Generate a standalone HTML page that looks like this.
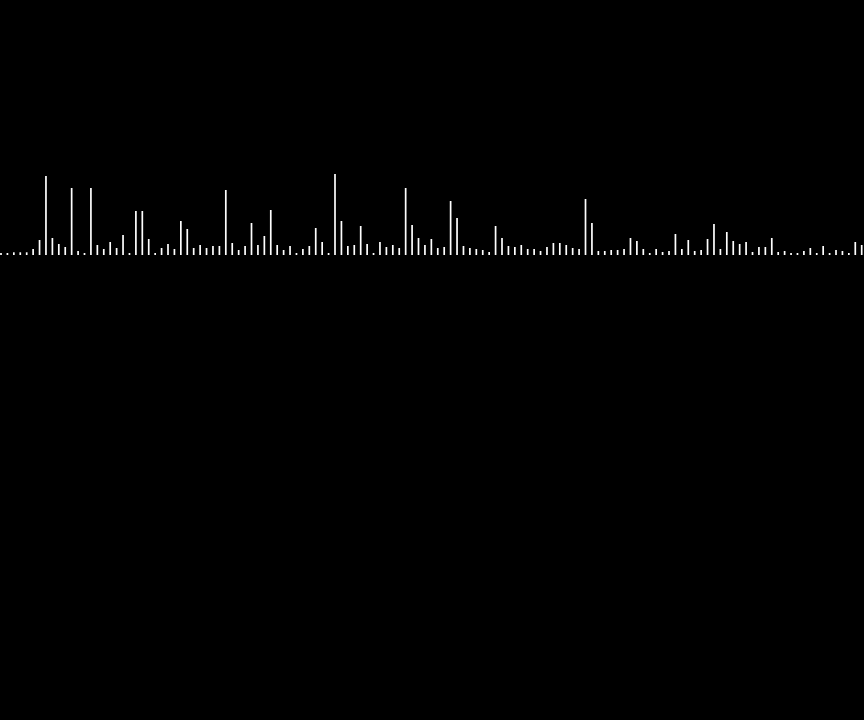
<!DOCTYPE html>
<html><head><meta charset="utf-8"><style>
html,body{margin:0;padding:0;background:#000;}
svg{display:block;}
</style></head>
<body>
<svg id="chart" width="864" height="720" viewBox="0 0 864 720">
<rect x="0" y="0" width="864" height="720" fill="#000"/>
<g id="bars"></g>
</svg>
<script>
const values1 = [2,2,2.7,2.7,2.7,6,15,79,17,11,8,67,4,2,67,10,6,13,7,20,2,44,44,16,2,7,11,6,34,26,7,10,7,9,9,65,12,5,9,32,10,19,45,10,5];
const values2 = [9,2,6,9,27,13,2,81,34,9,10,29,11,2,13,8,10,7,67,30,17,10,16,7,8,54,37,9,7,6,5,3,29,17,9,8,10,6,6,4,8,12,12,10,7];
const values3 = [6,56,32,4,4,5,5,6,17,14,6,2,6,3,4,21,6,15,4,5,16,31,6,23,14,11,13,3,8,8,17,3,4,2,2,4,7,2,9,2,5,4,2,13,10];
const values = values1.concat(values2, values3);
const x0 = 1, x1 = 861.7, baseY = 255, barW = 1.7;
const step = (x1 - x0) / (values.length - 1);
function xScale(i){ return x0 + i * step; }
function yScale(v){ return baseY - v; }
const g = document.getElementById('bars');
const NS = 'http://www.w3.org/2000/svg';
values.forEach((v, i) => {
  const r = document.createElementNS(NS, 'rect');
  r.setAttribute('x', (xScale(i) - barW / 2).toFixed(2));
  r.setAttribute('y', yScale(v).toFixed(2));
  r.setAttribute('width', barW);
  r.setAttribute('height', (baseY - yScale(v)).toFixed(2));
  r.setAttribute('fill', '#fff');
  
  
  g.appendChild(r);
});
</script>
</body></html>
